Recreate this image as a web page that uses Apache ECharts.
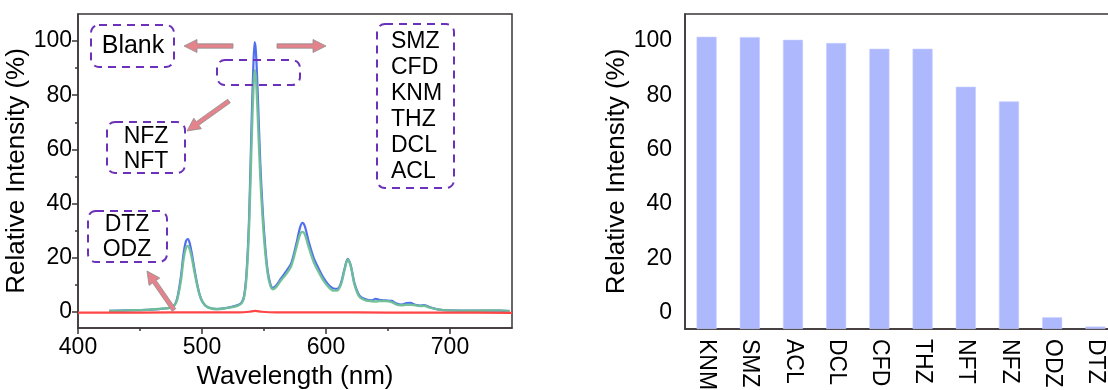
<!DOCTYPE html>
<html><head><meta charset="utf-8">
<script src="https://cdn.jsdelivr.net/npm/echarts@6/dist/echarts.min.js"></script>
<style>html,body{margin:0;padding:0;background:#fff}#c{width:1108px;height:390px}</style>
</head><body><div id="c"></div>
<script>
// ---------- data ----------
const wavelengths = [425,440,455,465,472,477,480,483,485,487,488.5,490,492,494,496,498,500,503,507,512,518,524,529,532,534,536,538,540,541.5,542.5,543.5,545,547,549,551,553,555,557,560,564,568,572,576,579,581,583,586,590,594,598,602,606,609,612,615,617.5,620,623,627,632,637,640,643,648,653,657,661,665,668,672,676,679,683,690,700,720,740,748];
const blueIntensity = [0.3,0.5,0.7,1.0,1.3,2.0,5.0,13,21,26,26.8,25.5,21,15.5,10.5,6.5,4.0,2.2,1.3,1.0,1.3,1.8,2.5,3.5,6,15,35,70,92,99.6,96,80,55,37,24,15,10.5,8.8,9.8,12.5,15,18,25,31,32.8,31.5,26,20,16,12.5,10,8.6,8.5,10.5,16,19.5,17,10.5,6,4.6,4.2,4.8,4.4,4.2,4.0,3.0,2.6,3.2,3.3,2.6,2.3,2.5,1.8,0.9,0.5,0.4,0.4,0.2];
const greenIntensity = [0.3,0.5,0.7,1.0,1.3,2.0,4.5,11.5,19,23.5,24.3,23.2,19.5,14.5,10,6.3,4.0,2.2,1.3,1.0,1.2,1.7,2.3,3.2,5.5,13.5,32,63,83,89.2,86.5,72,50,34,22,14,9.8,8.3,9.2,11.8,14,17,23.5,28.5,29.5,28.5,24,18.5,14.8,11.5,9.2,7.8,7.8,10,15.5,19.3,16.8,10,5.5,4.2,3.9,3.8,4.0,4.0,3.6,2.6,2.4,2.6,2.6,2.4,2.1,2.2,1.6,0.9,0.5,0.4,0.5,0.3];
const redWavelengths = [400,450,500,530,538,543,548,560,600,650,700,750];
const redIntensity = [-0.3,-0.3,-0.2,-0.2,0,0.3,0,-0.2,-0.2,-0.3,-0.3,-0.4];

const compounds = ['KNM','SMZ','ACL','DCL','CFD','THZ','NFT','NFZ','ODZ','DTZ'];
const relIntensity = [101.6,101.5,100.5,99.3,97.2,97.2,83.2,77.8,-1.7,-5.1];

const xMajorTicks = [400,500,600,700];
const xMinorTicks = [450,550,650];
const yMajorTicks = [0,20,40,60,80,100];
const yMinorTicks = [10,30,50,70,90];
const yMin = -6, yMax = 110;

// ---------- styles ----------
const FONT = 'Liberation Sans';
const AX = '#3d3636';
const axLine = {show:true, onZero:false, lineStyle:{color:AX, width:1.5}};
const tickStyle = {color:AX, width:1.5};

const pairs = (xs, ys) => xs.map((x,i)=>[x, ys[i]]);

function arrowPoly(x1,y1,x2,y2){
  const shaft=2.2, headL=13, headW=6.5;
  const dx=x2-x1, dy=y2-y1, L=Math.hypot(dx,dy), ux=dx/L, uy=dy/L, px=-uy, py=ux;
  const bx=x2-ux*headL, by=y2-uy*headL;
  return [[x1+px*shaft,y1+py*shaft],[bx+px*shaft,by+py*shaft],[bx+px*headW,by+py*headW],[x2,y2],
          [bx-px*headW,by-py*headW],[bx-px*shaft,by-py*shaft],[x1-px*shaft,y1-py*shaft]];
}
const PURPLE = '#6b31b9';
function dashBox(x,y,w,h){
  return {type:'rect', z:100, shape:{x,y,width:w,height:h,r:8},
    style:{fill:'none', stroke:PURPLE, lineWidth:2, lineDash:[8,6]}};
}
function arrow(x1,y1,x2,y2){
  return {type:'polygon', z:100, shape:{points:arrowPoly(x1,y1,x2,y2)},
    style:{fill:'#e4838b', stroke:'#8e8e8e', lineWidth:0.8}};
}
function label(t,x,y,size,align){
  return {type:'text', z:101, x, y, style:{text:t, fill:'#000', font:size+'px "'+FONT+'"',
    align:align||'center', verticalAlign:'middle'}};
}

const graphics = [
  dashBox(91,25,83,42), label('Blank',133,46,25),
  arrow(233,46,184,46), arrow(277,46,326,46),
  dashBox(217,60,83,25),
  dashBox(377,24,77,164),
  dashBox(107,122,78,51), label('NFZ',146,137,23), label('NFT',146,162,23),
  arrow(229,101,187,131),
  dashBox(88,211,79,51), label('DTZ',127,225,23), label('ODZ',127,250,23),
  arrow(174,310,147,271)
];
['SMZ','CFD','KNM','THZ','DCL','ACL'].forEach((t,i)=>graphics.push(label(t,391,42+i*26,23,'left')));

const tickLabel = {color:'#000', fontSize:23, fontFamily:FONT};
const nameStyle = {color:'#000', fontSize:26, fontFamily:FONT};

const option = {
  animation:false,
  backgroundColor:'#fff',
  grid:[
    {left:78, top:14, width:434, height:314, show:true, borderColor:AX, borderWidth:1.5,
     backgroundColor:'transparent', containLabel:false, outerBoundsMode:'none'},
    {left:685, top:14, width:432, height:315, show:true, borderColor:AX, borderWidth:1.5,
     backgroundColor:'transparent', containLabel:false, outerBoundsMode:'none'}
  ],
  xAxis:[
    {gridIndex:0, type:'value', min:400, max:750, position:'bottom',
     axisLine:axLine, splitLine:{show:false},
     axisTick:{customValues:xMajorTicks, length:6, lineStyle:tickStyle},
     axisLabel:{customValues:xMajorTicks, margin:8, ...tickLabel},
     name:'Wavelength (nm)', nameLocation:'middle', nameGap:33, nameTextStyle:nameStyle},
    {gridIndex:0, type:'value', min:400, max:750, position:'bottom',
     axisLine:{show:false, onZero:false}, splitLine:{show:false}, axisLabel:{show:false},
     axisTick:{customValues:xMinorTicks, length:3, lineStyle:tickStyle}},
    {gridIndex:1, type:'category', data:compounds, position:'bottom',
     axisLine:axLine, splitLine:{show:false},
     axisTick:{alignWithLabel:true, length:6, lineStyle:tickStyle},
     axisLabel:{rotate:-90, margin:10, interval:0, ...tickLabel}}
  ],
  yAxis:[
    {gridIndex:0, type:'value', min:yMin, max:yMax, position:'left',
     axisLine:axLine, splitLine:{show:false},
     axisTick:{customValues:yMajorTicks, length:6, lineStyle:tickStyle},
     axisLabel:{customValues:yMajorTicks, margin:6, ...tickLabel},
     name:'Relative Intensity (%)', nameLocation:'middle', nameGap:42, nameTextStyle:nameStyle},
    {gridIndex:0, type:'value', min:yMin, max:yMax, position:'left',
     axisLine:{show:false, onZero:false}, splitLine:{show:false}, axisLabel:{show:false},
     axisTick:{customValues:yMinorTicks, length:3, lineStyle:tickStyle}},
    {gridIndex:1, type:'value', min:yMin, max:yMax, position:'left',
     axisLine:axLine, splitLine:{show:false},
     axisTick:{customValues:yMajorTicks, length:12, lineStyle:tickStyle},
     axisLabel:{customValues:yMajorTicks, margin:13, ...tickLabel},
     name:'Relative Intensity (%)', nameLocation:'middle', nameGap:50, nameTextStyle:nameStyle},
    {gridIndex:1, type:'value', min:yMin, max:yMax, position:'left',
     axisLine:{show:false, onZero:false}, splitLine:{show:false}, axisLabel:{show:false},
     axisTick:{customValues:yMinorTicks, length:4, lineStyle:tickStyle}}
  ],
  series:[
    {type:'line', xAxisIndex:0, yAxisIndex:0, data:pairs(wavelengths, blueIntensity),
     symbol:'none', smooth:0.3, lineStyle:{color:'#4f6ff0', width:2.2}},
    {type:'line', xAxisIndex:0, yAxisIndex:0, data:pairs(wavelengths, greenIntensity),
     symbol:'none', smooth:0.3, lineStyle:{color:'#6fbf95', width:2.4, opacity:0.95}},
    {type:'line', xAxisIndex:0, yAxisIndex:0, data:pairs(redWavelengths, redIntensity),
     symbol:'none', smooth:0.3, lineStyle:{color:'#ff4545', width:2.2}},
    {type:'bar', xAxisIndex:2, yAxisIndex:2, stack:'b', stackStrategy:'all', silent:true,
     data:compounds.map(()=>yMin), barWidth:20, itemStyle:{color:'rgba(0,0,0,0)'}},
    {type:'bar', xAxisIndex:2, yAxisIndex:2, stack:'b', stackStrategy:'all',
     data:relIntensity.map(v=>v - yMin), barWidth:20,
     itemStyle:{color:'#adb8fd', borderColor:'#c4ccff', borderWidth:0.6}}
  ],
  graphic:graphics
};
const chart = echarts.init(document.getElementById('c'), null, {renderer:'canvas'});
chart.setOption(option);
</script></body></html>
